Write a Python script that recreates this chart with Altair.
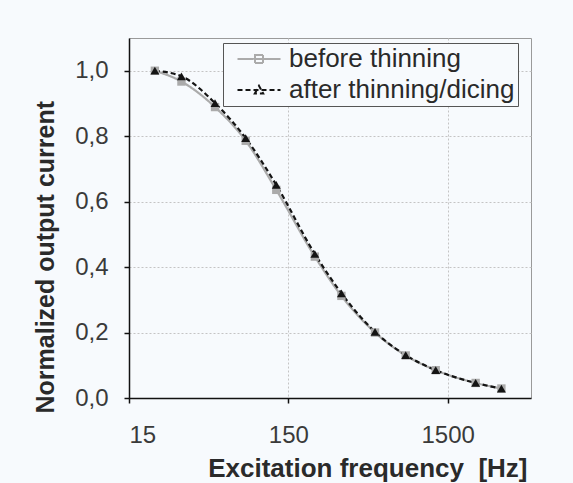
import altair as alt
import pandas as pd

freq = [21.8, 32, 52, 81, 126, 220, 323, 525, 818, 1262, 2247, 3260]
before = [1.0, 0.967, 0.889, 0.786, 0.636, 0.432, 0.312, 0.200, 0.130, 0.085, 0.046, 0.029]
after = [1.0, 0.983, 0.901, 0.794, 0.651, 0.440, 0.320, 0.202, 0.131, 0.085, 0.046, 0.029]
series_names = ["before thinning", "after thinning/dicing"]
x_ticks = [15, 150, 1500]
y_ticks = [0, 0.2, 0.4, 0.6, 0.8, 1.0]

df = pd.DataFrame({
    "freq": freq + freq,
    "value": before + after,
    "series": [series_names[0]] * len(freq) + [series_names[1]] * len(freq),
})

FONT = "Liberation Sans"
colors = ["#ababab", "#141414"]
dashes = [[1, 0], [5, 3]]
sq_path = "M-2.15,0L2.15,0M-0.4,-0.4L0.4,-0.4L0.4,0.4L-0.4,0.4Z"
tri_path = "M-2.15,0L2.15,0M-0.42,0.36L0,-0.42L0.42,0.36Z"

leg = alt.Legend(
    title=None, orient="none", legendX=94, legendY=5,
    symbolSize=400, symbolStrokeWidth=2, symbolOffset=20,
    labelFontSize=26, labelFont=FONT,
    labelColor="#2a2a2a", labelOffset=17, rowPadding=5, padding=3,
    strokeColor="#555555", fillColor="#f7fafd", labelLimit=400,
)

x = alt.X("freq:Q",
          scale=alt.Scale(type="log", domain=[15, 5000], nice=False),
          axis=alt.Axis(values=x_ticks, format="d", title="Excitation frequency\u00a0 [Hz]",
                        labelPadding=20, titleX=398, titleAlign="right",
                        titleFontSize=26,
                        titleY=78, titleBaseline="alphabetic"))
y = alt.Y("value:Q",
          scale=alt.Scale(domain=[0, 1.1], nice=False),
          axis=alt.Axis(values=y_ticks, title="Normalized output current",
                        labelExpr="replace(format(datum.value, '.1f'), '.', ',')",
                        labelPadding=16, titleX=-76, titleY=375, titleAlign="left",
                        titleFontSize=25,
                        titleBaseline="alphabetic", titleAngle=-90))

color = alt.Color("series:N", scale=alt.Scale(domain=series_names, range=colors), legend=leg)
dash = alt.StrokeDash("series:N", scale=alt.Scale(domain=series_names, range=dashes), legend=leg)
shape = alt.Shape("series:N", scale=alt.Scale(domain=series_names, range=[sq_path, tri_path]), legend=leg)

base = alt.Chart(df).encode(x=x, y=y)

lines = base.mark_line(interpolate="monotone", strokeWidth=2.2).encode(color=color, strokeDash=dash)
pts_before = base.transform_filter(alt.datum.series == series_names[0]).mark_point(
    shape="square", filled=True, color=colors[0], size=70, opacity=1)
pts_after = base.transform_filter(alt.datum.series == series_names[1]).mark_point(
    shape="triangle-up", filled=True, color=colors[1], size=80, opacity=1)
legend_layer = base.transform_filter("datum.freq < 0").mark_point(
    filled=False, strokeWidth=2, opacity=1).encode(color=color, strokeDash=dash, shape=shape)

chart = alt.layer(lines, pts_before, pts_after, legend_layer).properties(
    width=402, height=360,
    autosize=alt.AutoSizeParams(type="none"),
    padding={"left": 129, "top": 38, "right": 42, "bottom": 85},
    background="#f7fafd",
).configure_view(
    stroke="#9a9a9a", strokeWidth=1
).configure_axis(
    domainColor="#111111", domainWidth=1.5, tickColor="#111111", tickWidth=1.5, tickSize=5,
    labelFont=FONT, labelFontSize=24, labelColor="#3a3a3a",
    titleFont=FONT, titleFontWeight="bold", titleColor="#2a2a2a",
    grid=True, gridColor="#c4c4c4", gridDash=[2, 2], gridWidth=1,
)

chart.save("out.html", embed_options={"renderer": "svg", "actions": False})
